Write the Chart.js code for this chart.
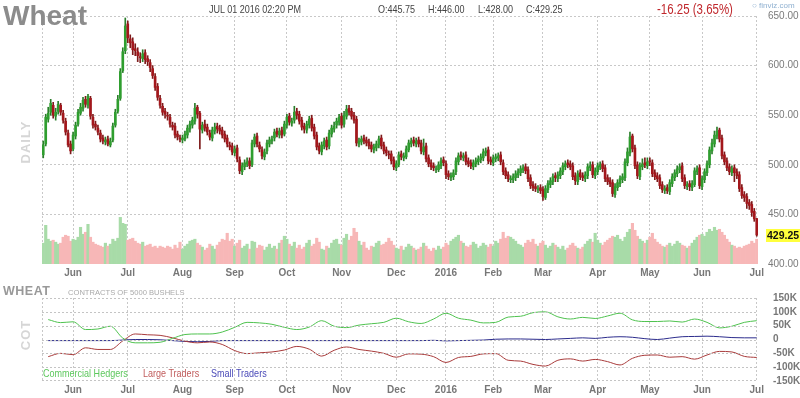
<!DOCTYPE html>
<html>
<head>
<meta charset="utf-8">
<title>Wheat</title>
<script src="https://cdn.jsdelivr.net/npm/chart.js@4.4.1/dist/chart.umd.min.js"></script>
<style>
  html, body { margin: 0; padding: 0; background: #fff; }
  body { width: 800px; height: 398px; position: relative; overflow: hidden; font-family: 'Liberation Sans', Arial, sans-serif; }
  .abs { position: absolute; white-space: nowrap; line-height: 1; }
  .narrow { transform: scaleX(0.82); transform-origin: 0 0; }
  .vert { transform: translate(-50%, -50%) rotate(-90deg); font-weight: bold; color: #d6d6d6; font-size: 13px; letter-spacing: 1px; }
  #mainChart { position: absolute; left: 0; top: 0; }
  #cotChart { position: absolute; left: 0; top: 285px; }
</style>
</head>
<body>
<canvas id="mainChart" width="800" height="285"></canvas>
<canvas id="cotChart" width="800" height="113"></canvas>

<div class="abs" style="left:3px;top:2px;font-size:28px;font-weight:bold;color:#8c8c8c;">Wheat</div>
<div class="abs narrow" style="left:209px;top:4px;font-size:11px;color:#444;">JUL 01 2016 02:20 PM</div>
<div class="abs narrow" style="left:378px;top:4px;font-size:11px;color:#444;">O:445.75</div>
<div class="abs narrow" style="left:428px;top:4px;font-size:11px;color:#444;">H:446.00</div>
<div class="abs narrow" style="left:478px;top:4px;font-size:11px;color:#444;">L:428.00</div>
<div class="abs narrow" style="left:526px;top:4px;font-size:11px;color:#444;">C:429.25</div>
<div class="abs narrow" style="left:657px;top:2px;font-size:14px;color:#c0282d;">-16.25 (3.65%)</div>
<div class="abs" style="left:752px;top:2px;font-size:8px;color:#8fb0d0;">&#9675; finviz.com</div>
<div class="abs vert" style="left:25px;top:142px;">DAILY</div>

<div class="abs" style="left:3px;top:285px;font-size:12.5px;font-weight:bold;color:#999;letter-spacing:0.5px;">WHEAT</div>
<div class="abs" style="left:68px;top:289px;font-size:7.6px;color:#aaa;">CONTRACTS OF 5000 BUSHELS</div>
<div class="abs vert" style="left:25px;top:335px;">COT</div>
<div class="abs narrow" style="left:43px;top:368px;font-size:11px;color:#5dc85d;">Commercial Hedgers</div>
<div class="abs narrow" style="left:143px;top:368px;font-size:11px;color:#c05b5b;">Large Traders</div>
<div class="abs narrow" style="left:211px;top:368px;font-size:11px;color:#4a4ab8;">Small Traders</div>

<script>
// ---- daily prices, May 13 2015 .. Jul 01 2016 (one entry per trading day) ----
const opens = [
  510, 521, 546, 553, 560, 549, 554, 560, 552, 544,
  532, 521, 516, 529, 541, 552, 557, 566, 560, 567,
  548, 541, 537, 532, 527, 523, 526, 520, 525, 540,
  554, 567, 595, 615, 642, 627, 624, 617, 614, 609,
  607, 613, 607, 603, 597, 589, 579, 567, 559, 554,
  550, 548, 540, 539, 531, 527, 525, 526, 530, 536,
  540, 544, 558, 552, 535, 541, 538, 532, 527, 534,
  539, 537, 535, 531, 527, 520, 519, 512, 517, 505,
  493, 498, 501, 504, 500, 521, 529, 520, 515, 508,
  514, 521, 524, 527, 534, 530, 535, 531, 540, 549,
  542, 545, 554, 551, 545, 539, 535, 540, 547, 538,
  530, 519, 513, 519, 525, 519, 531, 536, 540, 543,
  549, 541, 549, 557, 554, 550, 546, 521, 523, 527,
  525, 523, 520, 515, 517, 520, 527, 520, 515, 511,
  511, 505, 497, 500, 511, 507, 508, 515, 521, 525,
  521, 525, 522, 513, 519, 507, 502, 499, 495, 495,
  499, 505, 501, 491, 487, 488, 493, 503, 510, 507,
  510, 504, 502, 498, 501, 503, 505, 507, 512, 515,
  505, 502, 506, 507, 510, 502, 494, 490, 485, 485,
  487, 490, 492, 495, 498, 495, 487, 480, 478, 475,
  477, 475, 467, 475, 480, 483, 489, 486, 489, 493,
  498, 502, 501, 499, 489, 483, 492, 489, 486, 489,
  497, 500, 489, 493, 498, 501, 497, 487, 484, 482,
  470, 477, 481, 485, 487, 502, 512, 529, 517, 500,
  488, 498, 502, 499, 504, 502, 492, 489, 487, 480,
  474, 477, 473, 481, 487, 491, 495, 499, 487, 478,
  481, 477, 480, 493, 497, 478, 485, 492, 500, 514,
  521, 529, 535, 527, 510, 504, 498, 492, 497, 493,
  490, 477, 470, 468, 462, 460, 453, 445.75
];
const highs = [
  524, 551, 558, 566, 563, 557, 564, 562, 555, 547,
  535, 524, 533, 543, 556, 562, 568, 569, 571, 569,
  551, 544, 540, 535, 530, 528, 529, 527, 542, 556,
  570, 597, 618, 648, 645, 631, 628, 622, 618, 613,
  616, 616, 610, 606, 600, 592, 582, 570, 562, 557,
  553, 551, 543, 542, 534, 530, 530, 534, 540, 544,
  548, 562, 560, 554, 543, 545, 541, 535, 538, 542,
  542, 540, 538, 534, 530, 523, 522, 519, 520, 508,
  502, 505, 507, 507, 525, 531, 532, 523, 518, 516,
  525, 528, 529, 536, 537, 537, 538, 544, 551, 552,
  547, 559, 557, 554, 548, 542, 544, 549, 550, 541,
  533, 522, 523, 527, 528, 535, 540, 543, 547, 551,
  552, 554, 560, 560, 557, 553, 549, 527, 529, 530,
  528, 526, 523, 521, 524, 529, 530, 523, 518, 514,
  514, 508, 504, 513, 514, 512, 519, 525, 527, 528,
  527, 528, 525, 526, 522, 510, 505, 502, 499, 503,
  507, 508, 504, 494, 492, 495, 507, 512, 513, 512,
  513, 507, 505, 505, 507, 509, 511, 516, 517, 518,
  508, 510, 511, 512, 513, 505, 497, 493, 489, 491,
  494, 496, 499, 500, 501, 498, 490, 483, 481, 479,
  480, 478, 479, 484, 487, 491, 492, 493, 497, 502,
  504, 505, 504, 502, 492, 494, 495, 492, 493, 501,
  503, 503, 497, 502, 503, 504, 500, 490, 487, 485,
  481, 485, 489, 491, 506, 517, 533, 531, 520, 503,
  502, 506, 507, 507, 507, 505, 495, 492, 490, 483,
  479, 480, 485, 491, 495, 499, 501, 502, 490, 483,
  484, 484, 497, 499, 500, 489, 496, 504, 518, 526,
  534, 538, 537, 530, 513, 507, 501, 499, 500, 496,
  493, 480, 473, 471, 465, 463, 456, 446
];
const lows = [
  507, 519, 543, 550, 547, 545, 551, 550, 542, 530,
  518, 511, 514, 526, 539, 550, 554, 558, 557, 546,
  537, 535, 530, 523, 521, 520, 519, 518, 523, 538,
  552, 565, 593, 612, 623, 618, 611, 610, 604, 603,
  604, 602, 600, 594, 587, 575, 565, 557, 550, 547,
  545, 538, 535, 527, 525, 523, 522, 524, 527, 533,
  537, 541, 547, 516, 532, 534, 530, 525, 524, 531,
  532, 531, 527, 523, 518, 515, 510, 509, 503, 491,
  490, 495, 498, 496, 498, 518, 518, 513, 506, 505,
  511, 518, 521, 524, 528, 527, 527, 529, 537, 540,
  539, 542, 546, 541, 535, 532, 532, 537, 534, 526,
  515, 511, 510, 516, 515, 516, 528, 533, 537, 540,
  537, 538, 546, 550, 546, 542, 519, 518, 520, 521,
  519, 516, 513, 512, 514, 517, 516, 511, 509, 506,
  501, 495, 494, 498, 505, 504, 506, 513, 518, 519,
  518, 518, 511, 510, 503, 498, 495, 494, 492, 493,
  496, 499, 486, 485, 484, 485, 490, 500, 505, 504,
  500, 498, 496, 495, 498, 500, 502, 504, 509, 501,
  500, 499, 503, 504, 500, 490, 486, 483, 482, 482,
  484, 487, 489, 492, 491, 483, 476, 474, 473, 472,
  471, 464, 465, 472, 477, 480, 483, 483, 486, 490,
  495, 497, 495, 485, 480, 480, 485, 484, 483, 486,
  494, 487, 486, 490, 495, 493, 483, 480, 478, 468,
  467, 474, 478, 482, 484, 499, 509, 513, 496, 486,
  485, 495, 497, 496, 499, 488, 485, 483, 476, 472,
  471, 471, 470, 478, 484, 488, 492, 483, 476, 475,
  474, 474, 478, 490, 476, 475, 482, 489, 497, 511,
  518, 526, 523, 506, 500, 494, 490, 489, 483, 486,
  473, 466, 463, 456, 455, 448, 443, 428
];
const closes = [
  520, 548, 552, 562, 550, 553, 561, 553, 545, 533,
  520, 514, 530, 540, 553, 558, 565, 561, 569, 549,
  540, 538, 533, 526, 524, 525, 521, 524, 539, 553,
  566, 594, 614, 640, 628, 623, 616, 615, 610, 608,
  612, 606, 604, 598, 590, 578, 568, 560, 553, 551,
  549, 541, 538, 530, 528, 526, 527, 531, 537, 541,
  545, 557, 551, 536, 540, 537, 533, 528, 535, 538,
  536, 534, 530, 526, 521, 518, 513, 516, 506, 494,
  499, 502, 503, 499, 522, 528, 521, 516, 509, 513,
  522, 525, 526, 533, 531, 534, 530, 541, 548, 543,
  544, 553, 550, 544, 538, 536, 541, 546, 537, 529,
  518, 514, 520, 524, 518, 532, 537, 539, 544, 548,
  540, 550, 556, 553, 549, 545, 522, 524, 526, 524,
  522, 519, 516, 518, 521, 526, 519, 514, 512, 510,
  504, 498, 501, 510, 508, 509, 516, 522, 524, 522,
  524, 521, 514, 518, 506, 501, 498, 497, 496, 500,
  504, 502, 490, 488, 489, 492, 504, 509, 508, 509,
  503, 501, 499, 502, 504, 506, 508, 513, 514, 504,
  503, 507, 508, 509, 503, 493, 489, 486, 486, 488,
  491, 493, 496, 497, 494, 486, 479, 477, 476, 476,
  474, 468, 476, 481, 484, 488, 487, 490, 494, 499,
  501, 500, 498, 488, 484, 491, 488, 487, 490, 498,
  499, 490, 494, 499, 500, 496, 486, 483, 481, 471,
  478, 482, 486, 488, 503, 513, 528, 516, 499, 489,
  499, 501, 500, 503, 503, 491, 488, 486, 479, 475,
  476, 474, 482, 488, 492, 496, 498, 486, 479, 480,
  478, 481, 494, 496, 479, 486, 493, 501, 515, 522,
  530, 534, 526, 509, 503, 497, 493, 496, 492, 489,
  476, 469, 467, 461, 459, 452, 445.5, 429.25
];
// volume, thousand contracts
const volumes = [
  84, 156, 100, 92, 96, 88, 80, 84, 108, 116,
  112, 92, 100, 96, 108, 148, 120, 128, 160, 108,
  88, 80, 76, 72, 68, 84, 72, 80, 100, 92,
  104, 188, 164, 160, 96, 100, 104, 92, 84, 80,
  88, 72, 76, 80, 68, 72, 64, 72, 68, 64,
  72, 68, 60, 76, 64, 88, 60, 72, 80, 92,
  96, 100, 84, 76, 68, 56, 64, 80, 72, 60,
  76, 88, 100, 96, 124, 92, 100, 72, 84, 96,
  64, 72, 80, 60, 92, 88, 64, 76, 72, 56,
  68, 80, 64, 72, 60, 84, 96, 112, 100, 80,
  72, 88, 64, 76, 60, 68, 84, 96, 72, 80,
  104, 88, 60, 56, 72, 64, 84, 96, 100, 80,
  76, 104, 120, 96, 112, 144, 128, 92, 76, 88,
  64, 56, 72, 68, 84, 92, 76, 80, 88, 104,
  92, 76, 64, 60, 72, 56, 68, 80, 72, 64,
  56, 60, 68, 84, 72, 60, 52, 64, 56, 72,
  60, 68, 84, 76, 92, 100, 108, 116, 92, 84,
  72, 68, 76, 88, 80, 64, 72, 84, 76, 68,
  80, 72, 92, 84, 100, 128, 104, 112, 108, 100,
  92, 80, 76, 68, 84, 96, 88, 100, 80, 72,
  84, 92, 76, 64, 72, 84, 76, 68, 60, 72,
  56, 64, 76, 84, 72, 64, 60, 68, 80, 92,
  100, 88, 124, 96, 84, 76, 88, 96, 104, 112,
  108, 116, 100, 92, 108, 128, 140, 164, 136, 112,
  100, 92, 84, 96, 108, 124, 100, 88, 80, 72,
  68, 76, 84, 72, 80, 92, 84, 76, 72, 64,
  72, 84, 96, 108, 116, 120, 112, 128, 140, 132,
  148, 136, 140, 128, 116, 100, 88, 76, 72, 64,
  68, 64, 72, 76, 80, 92, 84, 100
];

// first trading day of each month (index into the daily arrays) and its label
const monthIdx = [12, 34, 56, 77, 98, 120, 142, 162, 181, 201, 223, 244, 265, 287];
const monthLabels = ['Jun', 'Jul', 'Aug', 'Sep', 'Oct', 'Nov', 'Dec', '2016', 'Feb', 'Mar', 'Apr', 'May', 'Jun', 'Jul'];

// ---- weekly COT net positions, thousand contracts ----
const cotCommercial = [
  72, 61, 64, 36, 38, 48, 5, -12, -12, -10,
  4, 18, 20, 20, 27, 44, 62, 60, 55, 44,
  36, 45, 68, 48, 43, 52, 57, 62, 77, 64,
  58, 74, 95, 77, 70, 60, 62, 81, 84, 97,
  100, 82, 74, 80, 76, 85, 95, 71, 65, 65,
  67, 63, 74, 62, 42, 48, 62, 68
];
const cotLarge = [
  -62, -50, -55, -30, -36, -36, -5, 20, 17, 15,
  6, -6, -12, -9, -18, -40, -51, -48, -45, -38,
  -25, -35, -60, -39, -27, -36, -42, -50, -64, -52,
  -53, -62, -83, -65, -61, -52, -51, -75, -78, -90,
  -96, -75, -70, -78, -72, -80, -92, -68, -57, -56,
  -64, -62, -71, -56, -43, -45, -61, -65
];
const cotSmall = [
  -4, -4, -4, -4, -4, -4, -2, 0, 0, -1,
  -4, -7, -8, -7, -4, -4, -4, -4, -4, -4,
  -4, -4, -4, -4, -4, -4, -4, -4, -4, -4,
  -4, -3, -5, -4, -3, -2, 1, 2, 2, 1,
  0, 2, 4, 6, 4, 8, 10, 8, 3, 0,
  5, 10, 11, 12, 10, 7, 6, 6
];
const cotTicks = [-150, -100, -50, 0, 50, 100, 150];
// one COT report per week: the report's trading-day index
const cotIdx = cotCommercial.map((_, k) => 2 + k * 5);

const FONT = "'Liberation Sans', Arial, sans-serif";
const GRID = '#c8c8c8';
const UP = '#2f9e2f', DOWN = '#a3171c';
const UP_WICK = '#2a7d2a', DOWN_WICK = '#7d1a1a';
const VOL_UP = '#a8dba8', VOL_DOWN = '#f7b7b7';

Chart.defaults.font.family = FONT;
Chart.defaults.color = '#777';

const isUp = closes.map((c, i) => c >= opens[i]);
const days = closes.map((_, i) => i);

function monthAxis(height) {
    return {
        type: 'linear', min: -0.5, max: closes.length - 0.5, offset: false,
        afterBuildTicks: axis => { axis.ticks = [-0.5].concat(monthIdx).map(v => ({ value: v })); },
        afterFit: axis => { axis.height = height; },
        ticks: {
            autoSkip: false, maxRotation: 0, padding: 3, color: '#777',
            font: { size: 10, weight: 'bold' },
            callback: v => { const k = monthIdx.indexOf(v); return k < 0 ? '' : monthLabels[k]; }
        },
        grid: { color: GRID, drawTicks: false, offset: false },
        border: { display: false, dash: [2, 2] }
    };
}

const lastPriceTag = {
    id: 'lastPriceTag',
    afterDraw(chart) {
        const last = closes[closes.length - 1];
        const y = chart.scales.y.getPixelForValue(last);
        const x = chart.chartArea.right + 8;
        const ctx = chart.ctx;
        ctx.save();
        ctx.fillStyle = '#ffff3c';
        ctx.fillRect(x, y - 6, 34, 13);
        ctx.fillStyle = '#111';
        ctx.font = 'bold 10.5px ' + FONT;
        ctx.textBaseline = 'middle';
        ctx.fillText(last.toFixed(2), x + 1, y + 1);
        ctx.restore();
    }
};

// dotted horizontal rules of the COT panel, placed through the y scale
const cotRules = {
    id: 'cotRules',
    afterDraw(chart) {
        const { ctx, chartArea, scales } = chart;
        ctx.save();
        ctx.fillStyle = '#c4c4c4';
        cotTicks.forEach(v => {
            const y = Math.min(Math.round(scales.y.getPixelForValue(v)), Math.floor(chartArea.bottom) - 1);
            for (let x = Math.ceil(chartArea.left); x < chartArea.right; x += 4) {
                ctx.fillRect(x, y, 2, 1);
            }
        });
        ctx.restore();
    }
};

new Chart(document.getElementById('mainChart'), {
    type: 'bar',
    data: {
        datasets: [
            {
                label: 'Volume', yAxisID: 'yv', order: 3, grouped: false, barThickness: 2.5,
                data: days.map(i => ({ x: i, y: volumes[i] })),
                backgroundColor: days.map(i => isUp[i] ? VOL_UP : VOL_DOWN)
            },
            {
                label: 'Range', yAxisID: 'y', order: 2, grouped: false, barThickness: 1,
                data: days.map(i => ({ x: i, y: [lows[i], highs[i]] })),
                backgroundColor: days.map(i => isUp[i] ? UP_WICK : DOWN_WICK)
            },
            {
                label: 'Body', yAxisID: 'y', order: 1, grouped: false, barThickness: 2, minBarLength: 1,
                data: days.map(i => ({ x: i, y: [opens[i], closes[i]] })),
                backgroundColor: days.map(i => isUp[i] ? UP : DOWN)
            }
        ]
    },
    options: {
        responsive: false, animation: false, devicePixelRatio: 1,
        layout: { padding: { left: 42, top: 16, right: 0, bottom: 0 } },
        plugins: { legend: { display: false }, tooltip: { enabled: false } },
        scales: {
            x: monthAxis(21),
            y: {
                position: 'right', min: 400, max: 650,
                afterFit: axis => { axis.width = 42; },
                ticks: { stepSize: 50, autoSkip: false, padding: 10, color: '#7a7a7a', font: { size: 10 }, callback: v => v.toFixed(2) },
                grid: { color: c => (c.tick && c.tick.value === 400) ? 'rgba(0,0,0,0)' : GRID, drawTicks: false },
                border: { display: false, dash: [2, 2] }
            },
            yv: { display: false, min: 0, max: 1000 }
        }
    },
    plugins: [lastPriceTag]
});

new Chart(document.getElementById('cotChart'), {
    type: 'line',
    data: {
        datasets: [
            { label: 'Commercial Hedgers', data: cotIdx.map((x, k) => ({ x, y: cotCommercial[k] })), borderColor: '#4ec24e' },
            { label: 'Large Traders', data: cotIdx.map((x, k) => ({ x, y: cotLarge[k] })), borderColor: '#a83a3a' },
            { label: 'Small Traders', data: cotIdx.map((x, k) => ({ x, y: cotSmall[k] })), borderColor: '#2b2b8c' }
        ]
    },
    options: {
        responsive: false, animation: false, devicePixelRatio: 1,
        layout: { padding: { left: 42, top: 13, right: 0, bottom: 0 } },
        elements: { line: { borderWidth: 1, tension: 0.4, cubicInterpolationMode: 'monotone' }, point: { radius: 0 } },
        plugins: { legend: { display: false }, tooltip: { enabled: false } },
        scales: {
            x: monthAxis(17),
            y: {
                position: 'right', min: -150, max: 150,
                afterBuildTicks: axis => { axis.ticks = cotTicks.map(v => ({ value: v })); },
                afterFit: axis => { axis.width = 42; },
                ticks: { autoSkip: false, padding: 7, color: '#777', font: { size: 10, weight: 'bold' }, callback: v => v === 0 ? '0' : v + 'K' },
                grid: { display: false },
                border: { display: false }
            }
        }
    },
    plugins: [cotRules]
});
</script>
</body>
</html>
